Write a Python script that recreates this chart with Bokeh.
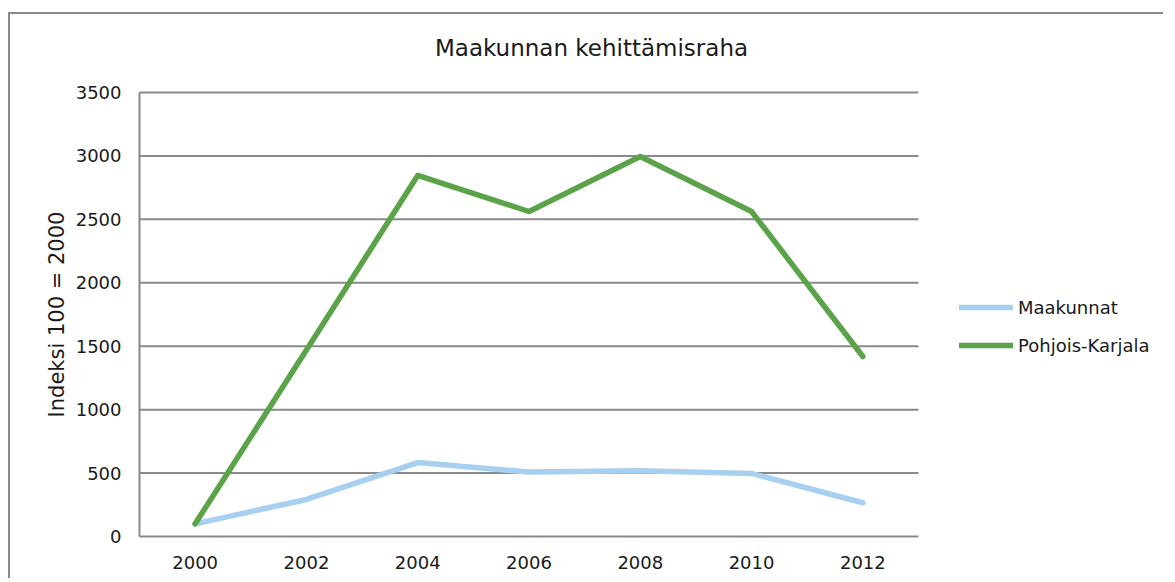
import math
from bokeh.plotting import figure
from bokeh.models import Range1d, Legend, LegendItem
from bokeh.core.properties import value
from bokeh.embed import file_html
from bokeh.resources import INLINE

years = ["2000", "2002", "2004", "2006", "2008", "2010", "2012"]
maakunnat = [100, 292, 583, 508, 518, 497, 266]
pohjois_karjala = [100, 1470, 2846, 2562, 2995, 2562, 1419]
y_ticks = [0, 500, 1000, 1500, 2000, 2500, 3000, 3500]
y_tick_labels = ["0", "500", "1000", "1500", "2000", "2500", "3000", "3500"]
title_text = "Maakunnan kehittämisraha"
y_axis_title = "Indeksi 100 = 2000"

FONT = "DejaVu Sans"
xs = list(range(len(years)))
n = len(years)

# The frame covers the whole drawing area; title, tick labels and legend sit inside it.
FRAME_L, FRAME_R, FRAME_T, FRAME_B = 10, 1165, 14, 580
PLOT_L, PLOT_B, PLOT_H = 139, 536, 444
ppu_x = (918 - PLOT_L) / n
x_start = -0.5 - (PLOT_L - FRAME_L) / ppu_x
x_end = x_start + (FRAME_R - FRAME_L) / ppu_x
upp_y = y_ticks[-1] / PLOT_H
y_start = -(FRAME_B - PLOT_B) * upp_y
y_end = y_start + (FRAME_B - FRAME_T) * upp_y


def xv(px):
    return x_start + (px - FRAME_L) / ppu_x


def yv(py):
    return y_end - (py - FRAME_T) * upp_y


p = figure(width=FRAME_R - FRAME_L, height=FRAME_B - FRAME_T, output_backend="svg",
           toolbar_location=None, x_range=Range1d(x_start, x_end), y_range=Range1d(y_start, y_end),
           min_border_left=0, min_border_right=0, min_border_top=0, min_border_bottom=0)
p.styles = {"border-left": "2px solid #8a8a8a", "border-top": "2px solid #8a8a8a",
            "margin-top": "12px", "margin-left": "8px"}
p.outline_line_color = None
p.background_fill_color = "white"
p.border_fill_color = "white"
p.xaxis.visible = False
p.yaxis.visible = False
p.xgrid.grid_line_color = None
p.ygrid.grid_line_color = None

# title
p.text(x=[xv(591)], y=[yv(47)], text=[title_text], text_align="center", text_baseline="middle",
       text_font=value(FONT), text_font_size="23px", text_color="#1a1a1a")

# y tick labels and y-axis title
p.text(x=[xv(121)] * len(y_ticks), y=y_ticks, text=y_tick_labels, text_align="right",
       text_baseline="middle", text_font=value(FONT), text_font_size="18px", text_color="#1a1a1a")
p.text(x=[xv(56)], y=[y_ticks[-1] / 2], text=[y_axis_title], angle=math.pi / 2,
       text_align="center", text_baseline="middle", text_font=value(FONT),
       text_font_size="21px", text_color="#1a1a1a")

# x tick labels (categories)
p.text(x=xs, y=[yv(562)] * n, text=years, text_align="center", text_baseline="middle",
       text_font=value(FONT), text_font_size="18px", text_color="#1a1a1a")

# horizontal gridlines (incl. baseline) and left axis line limited to the category span
p.segment(x0=[-0.5] * len(y_ticks), y0=y_ticks, x1=[n - 0.5] * len(y_ticks), y1=y_ticks,
          line_color="#8a8a8a", line_width=2)
p.segment(x0=[-0.5], y0=[0], x1=[-0.5], y1=[y_ticks[-1]], line_color="#8a8a8a", line_width=2)

r1 = p.line(xs, maakunnat, line_color="#a6cff0", line_width=5.5, line_cap="round", line_join="round")
r2 = p.line(xs, pohjois_karjala, line_color="#5aa348", line_width=5.5, line_cap="round", line_join="round")

legend = Legend(items=[LegendItem(label="Maakunnat", renderers=[r1]),
                       LegendItem(label="Pohjois-Karjala", renderers=[r2])],
                location=(959 - FRAME_L, FRAME_B - 360), orientation="vertical",
                glyph_width=54, glyph_height=30, spacing=8, padding=0, margin=0,
                label_standoff=5, border_line_color=None, background_fill_alpha=0,
                label_text_font=FONT, label_text_font_size="18px", label_text_color="#1a1a1a")
p.add_layout(legend, "center")

open("out.html", "w").write(file_html(p, INLINE))
